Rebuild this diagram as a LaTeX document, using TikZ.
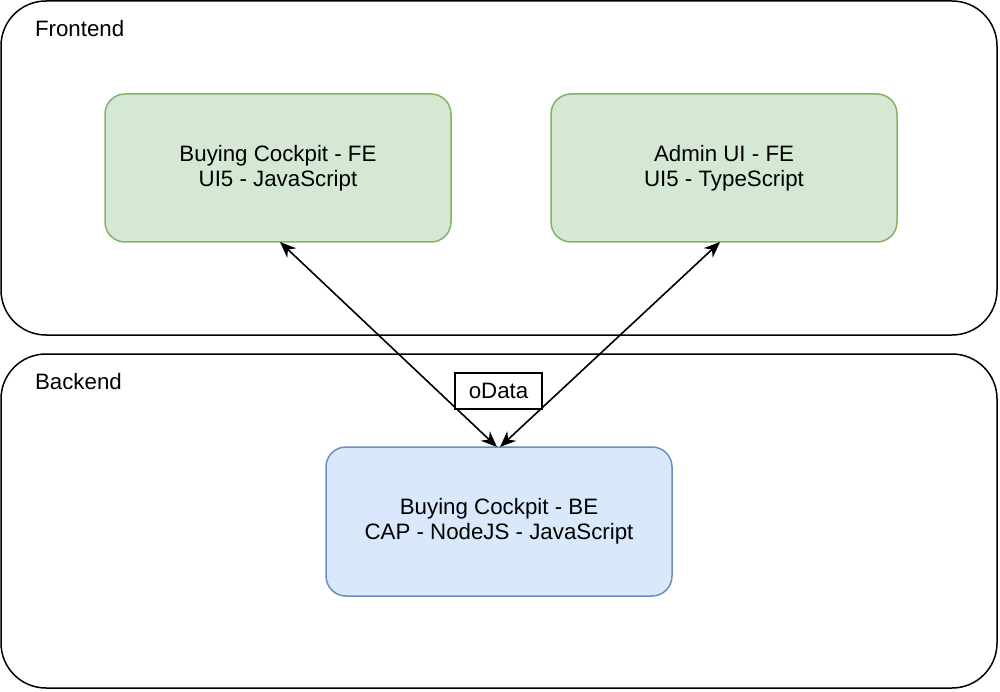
\documentclass[tikz,border=0pt]{standalone}
\usepackage{fontspec}
\setmainfont{Liberation Sans}
\usetikzlibrary{arrows.meta}
\definecolor{gfill}{HTML}{D5E8D4}
\definecolor{gdraw}{HTML}{82B366}
\definecolor{bfill}{HTML}{DAE8FC}
\definecolor{bdraw}{HTML}{6C8EBF}
\tikzset{
  container/.style={draw=black, line width=1.5pt, rounded corners=45pt},
  greenbox/.style={draw=gdraw, fill=gfill, line width=1.5pt, rounded corners=20pt, minimum width=346pt, minimum height=148pt, align=center, inner sep=0pt},
  bluebox/.style={draw=bdraw, fill=bfill, line width=1.5pt, rounded corners=20pt, minimum width=346pt, minimum height=149pt, align=center, inner sep=0pt},
  lbl/.style={font=\fontsize{22.3}{25}\selectfont},
  conn/.style={line width=1.6pt, {Stealth[length=16pt,width=13pt,inset=5pt]}-{Stealth[length=16pt,width=13pt,inset=5pt]}},
  tagbox/.style={draw=black, fill=white, line width=1.5pt, minimum width=87pt, minimum height=36pt, inner sep=0pt}
}
\begin{document}
\begin{tikzpicture}[x=1pt,y=-1pt]
\useasboundingbox (0,0) rectangle (1000,692);
\draw[container] (1,1) rectangle (997,335);
\draw[container] (1,354) rectangle (997,688);
\node[lbl, anchor=west] (fe) at (31.5,29) {Frontend};
\node[lbl, anchor=west] (be) at (31.5,382) {Backend};
\node[greenbox, lbl] (bcfe) at (278,168) {Buying Cockpit - FE\\UI5 - JavaScript};
\node[greenbox, lbl] (admin) at (724,168) {Admin UI - FE\\UI5 - TypeScript};
\node[bluebox, lbl] (bcbe) at (499,521.5) {Buying Cockpit - BE\\CAP - NodeJS - JavaScript};
\coordinate (lt) at (280,242);
\coordinate (rt) at (720,242);
\coordinate (lb) at (497,447);
\coordinate (rb) at (500,447);
\draw[conn] (lt) -- (lb);
\draw[conn] (rt) -- (rb);
\node[tagbox, lbl] (odata) at (498.5,391) {oData};
\end{tikzpicture}
\end{document}
